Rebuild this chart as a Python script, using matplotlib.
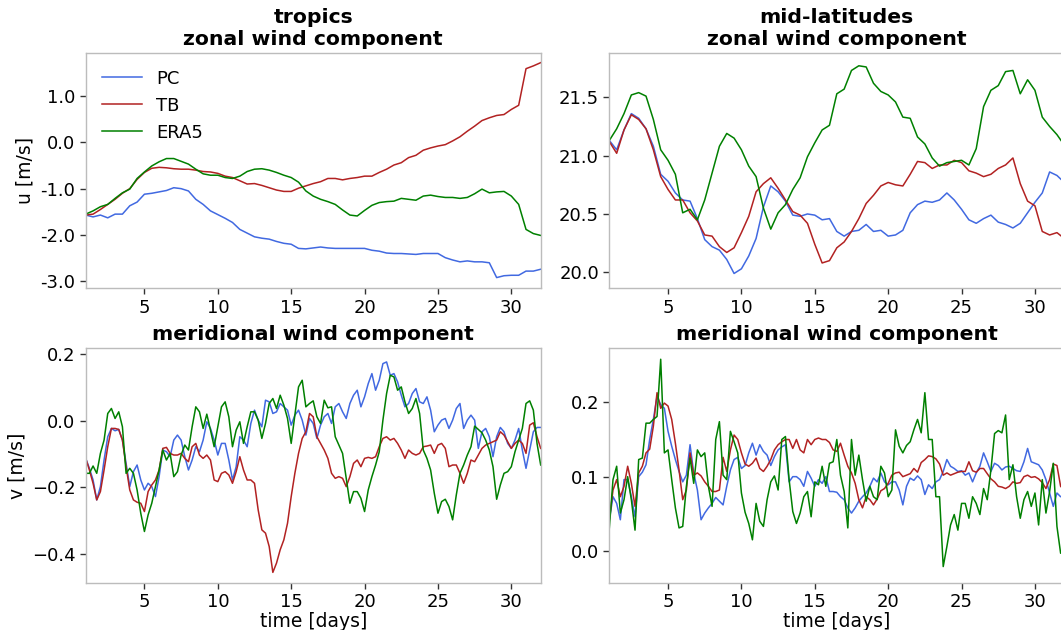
import numpy as np
import matplotlib
matplotlib.use("Agg")
import matplotlib.pyplot as plt
from matplotlib.ticker import FormatStrFormatter

# ---------------- data ----------------
days_u = np.linspace(1, 32, 63)    # 12-hourly samples for zonal wind
days_v = np.linspace(1, 32, 125)   # 6-hourly samples for meridional wind

series_names = ["PC", "TB", "ERA5"]
series_colors = ["#4169E1", "#B22222", "#008000"]

pc_u_trop = [-1.57, -1.61, -1.57, -1.63, -1.55, -1.55, -1.37, -1.29, -1.12, -1.10,
             -1.07, -1.04, -0.98, -1.00, -1.05, -1.23, -1.34, -1.48, -1.56, -1.64,
             -1.73, -1.88, -1.96, -2.04, -2.07, -2.09, -2.14, -2.18, -2.20, -2.29,
             -2.30, -2.28, -2.26, -2.28, -2.29, -2.29, -2.29, -2.29, -2.29, -2.33,
             -2.35, -2.39, -2.40, -2.40, -2.41, -2.42, -2.40, -2.40, -2.40, -2.49,
             -2.54, -2.58, -2.56, -2.58, -2.58, -2.60, -2.92, -2.88, -2.87, -2.87,
             -2.78, -2.78, -2.74]
tb_u_trop = [-1.57, -1.55, -1.45, -1.34, -1.23, -1.10, -1.00, -0.80, -0.65, -0.56,
             -0.54, -0.55, -0.57, -0.58, -0.58, -0.60, -0.63, -0.64, -0.67, -0.73,
             -0.76, -0.83, -0.90, -0.89, -0.93, -0.98, -1.03, -1.06, -1.06, -0.99,
             -0.94, -0.89, -0.85, -0.78, -0.78, -0.81, -0.78, -0.76, -0.73, -0.73,
             -0.65, -0.58, -0.49, -0.44, -0.33, -0.28, -0.17, -0.12, -0.08, -0.05,
             0.03, 0.12, 0.24, 0.35, 0.47, 0.53, 0.58, 0.60, 0.71, 0.80,
             1.59, 1.65, 1.72]
era5_u_trop = [-1.55, -1.48, -1.39, -1.34, -1.21, -1.09, -1.01, -0.78, -0.64, -0.51,
               -0.42, -0.35, -0.35, -0.41, -0.47, -0.58, -0.68, -0.71, -0.71, -0.76,
               -0.78, -0.73, -0.63, -0.58, -0.57, -0.60, -0.65, -0.71, -0.76, -0.86,
               -1.05, -1.16, -1.23, -1.28, -1.34, -1.46, -1.57, -1.59, -1.47, -1.36,
               -1.30, -1.28, -1.27, -1.21, -1.23, -1.25, -1.16, -1.14, -1.17, -1.19,
               -1.19, -1.21, -1.19, -1.11, -1.01, -1.09, -1.07, -1.06, -1.16, -1.34,
               -1.88, -1.97, -2.01]

pc_u_mid = [21.13, 21.05, 21.22, 21.36, 21.32, 21.23, 21.08, 20.84, 20.78, 20.68,
            20.62, 20.61, 20.46, 20.28, 20.22, 20.19, 20.11, 19.99, 20.03, 20.14,
            20.29, 20.56, 20.74, 20.69, 20.61, 20.49, 20.48, 20.50, 20.49, 20.45,
            20.46, 20.35, 20.31, 20.35, 20.36, 20.41, 20.35, 20.36, 20.31, 20.32,
            20.36, 20.51, 20.58, 20.61, 20.60, 20.62, 20.68, 20.62, 20.54, 20.45,
            20.42, 20.46, 20.49, 20.43, 20.41, 20.38, 20.42, 20.51, 20.60, 20.68,
            20.86, 20.83, 20.77]
tb_u_mid = [21.12, 21.02, 21.22, 21.35, 21.31, 21.23, 21.05, 20.82, 20.71, 20.62,
            20.62, 20.51, 20.44, 20.32, 20.31, 20.22, 20.17, 20.21, 20.34, 20.48,
            20.69, 20.76, 20.81, 20.72, 20.62, 20.52, 20.49, 20.42, 20.24, 20.08,
            20.10, 20.21, 20.26, 20.35, 20.46, 20.59, 20.66, 20.74, 20.77, 20.75,
            20.74, 20.84, 20.95, 20.94, 20.89, 20.92, 20.92, 20.96, 20.94, 20.87,
            20.85, 20.82, 20.84, 20.89, 20.92, 20.98, 20.76, 20.61, 20.57, 20.35,
            20.32, 20.34, 20.29]
era5_u_mid = [21.13, 21.23, 21.36, 21.52, 21.54, 21.51, 21.31, 21.05, 20.96, 20.84,
              20.51, 20.54, 20.45, 20.62, 20.85, 21.08, 21.19, 21.15, 21.05, 20.91,
              20.82, 20.55, 20.37, 20.51, 20.58, 20.71, 20.81, 20.99, 21.11, 21.22,
              21.26, 21.53, 21.57, 21.73, 21.77, 21.76, 21.62, 21.55, 21.52, 21.46,
              21.33, 21.32, 21.16, 21.10, 20.98, 20.91, 20.94, 20.95, 20.96, 20.92,
              21.06, 21.42, 21.56, 21.60, 21.72, 21.73, 21.53, 21.65, 21.56, 21.33,
              21.25, 21.18, 21.09]

pc_v_trop = [-0.113, -0.143, -0.178, -0.238, -0.198, -0.118, -0.048, -0.023, -0.030, -0.026,
             -0.058, -0.128, -0.198, -0.153, -0.133, -0.178, -0.208, -0.188, -0.198, -0.228,
             -0.168, -0.088, -0.093, -0.108, -0.058, -0.043, -0.058, -0.108, -0.148, -0.118,
             -0.078, -0.093, -0.058, -0.003, -0.023, -0.058, -0.103, -0.068, -0.068, -0.118,
             -0.178, -0.138, -0.048, -0.058, -0.078, -0.008, 0.032, 0.002, -0.018, 0.062,
             0.057, 0.022, 0.027, 0.052, 0.042, 0.032, -0.013, 0.017, 0.032, 0.002,
             -0.043, 0.007, -0.008, -0.053, -0.013, 0.012, 0.022, -0.008, 0.042, 0.052,
             0.027, 0.007, 0.052, 0.077, 0.092, 0.042, 0.072, 0.112, 0.142, 0.092,
             0.122, 0.172, 0.177, 0.137, 0.142, 0.117, 0.077, 0.042, 0.052, 0.082,
             0.097, 0.057, 0.052, 0.072, 0.032, -0.033, -0.013, 0.002, 0.007, -0.023,
             0.002, 0.037, 0.052, -0.023, 0.002, 0.017, 0.002, -0.083, -0.033, -0.023,
             -0.048, -0.108, -0.048, -0.020, -0.033, -0.068, -0.083, -0.058, -0.023, -0.088,
             -0.143, -0.088, -0.033, -0.020, -0.020]
tb_v_trop = [-0.113, -0.148, -0.188, -0.238, -0.213, -0.148, -0.078, -0.023, -0.023, -0.026,
             -0.058, -0.138, -0.208, -0.238, -0.245, -0.248, -0.273, -0.213, -0.193, -0.178,
             -0.148, -0.083, -0.080, -0.098, -0.103, -0.103, -0.098, -0.113, -0.123, -0.078,
             -0.068, -0.103, -0.113, -0.103, -0.118, -0.178, -0.183, -0.158, -0.153, -0.163,
             -0.188, -0.153, -0.108, -0.148, -0.178, -0.178, -0.188, -0.268, -0.328, -0.338,
             -0.378, -0.456, -0.428, -0.388, -0.358, -0.308, -0.228, -0.158, -0.098, -0.053,
             -0.033, 0.022, 0.012, -0.048, -0.068, -0.088, -0.113, -0.158, -0.173, -0.168,
             -0.173, -0.198, -0.168, -0.128, -0.118, -0.138, -0.113, -0.110, -0.113, -0.108,
             -0.078, -0.053, -0.048, -0.058, -0.053, -0.068, -0.088, -0.113, -0.088, -0.098,
             -0.103, -0.098, -0.078, -0.076, -0.073, -0.098, -0.073, -0.068, -0.083, -0.138,
             -0.133, -0.133, -0.158, -0.188, -0.158, -0.118, -0.123, -0.103, -0.083, -0.073,
             -0.068, -0.063, -0.058, -0.033, -0.043, -0.063, -0.083, -0.068, -0.058, -0.068,
             -0.098, -0.013, -0.006, -0.048, -0.083]
era5_v_trop = [-0.158, -0.158, -0.136, -0.158, -0.098, -0.058, 0.022, 0.037, 0.007, 0.027,
               -0.018, -0.158, -0.143, -0.158, -0.208, -0.278, -0.333, -0.283, -0.248, -0.198,
               -0.148, -0.088, -0.118, -0.098, -0.168, -0.153, -0.103, -0.073, -0.088, -0.018,
               0.042, 0.027, -0.023, 0.020, -0.028, -0.078, -0.018, 0.042, 0.057, 0.012,
               -0.078, -0.028, -0.003, -0.068, -0.018, 0.027, 0.027, 0.002, -0.053, -0.008,
               0.052, 0.067, 0.037, 0.077, 0.047, 0.007, -0.068, 0.017, 0.102, 0.122,
               0.042, 0.052, 0.060, 0.012, -0.008, 0.062, 0.039, 0.042, -0.048, -0.073,
               -0.098, -0.173, -0.248, -0.213, -0.213, -0.233, -0.273, -0.208, -0.168, -0.133,
               -0.093, 0.002, 0.082, 0.137, 0.132, 0.092, 0.102, 0.057, 0.022, 0.037,
               0.067, 0.022, -0.088, -0.113, -0.148, -0.218, -0.278, -0.243, -0.236, -0.258,
               -0.298, -0.223, -0.158, -0.133, -0.103, -0.078, -0.016, -0.026, -0.036, -0.058,
               -0.088, -0.138, -0.236, -0.193, -0.158, -0.153, -0.138, -0.093, -0.058, -0.023,
               0.052, 0.060, 0.032, -0.068, -0.133]

pc_v_mid = [0.042, 0.073, 0.064, 0.042, 0.096, 0.096, 0.073, 0.046, 0.100, 0.106,
            0.116, 0.150, 0.177, 0.208, 0.197, 0.192, 0.161, 0.141, 0.123, 0.107,
            0.093, 0.102, 0.143, 0.105, 0.082, 0.042, 0.051, 0.058, 0.064, 0.072,
            0.067, 0.062, 0.087, 0.109, 0.123, 0.126, 0.111, 0.115, 0.132, 0.145,
            0.129, 0.143, 0.134, 0.129, 0.115, 0.127, 0.136, 0.140, 0.143, 0.093,
            0.100, 0.100, 0.096, 0.087, 0.107, 0.098, 0.087, 0.096, 0.091, 0.100,
            0.080, 0.080, 0.079, 0.073, 0.069, 0.058, 0.051, 0.058, 0.067, 0.073,
            0.078, 0.087, 0.098, 0.093, 0.105, 0.093, 0.089, 0.093, 0.093, 0.082,
            0.062, 0.087, 0.098, 0.095, 0.101, 0.096, 0.076, 0.089, 0.084, 0.093,
            0.096, 0.107, 0.123, 0.114, 0.111, 0.107, 0.108, 0.102, 0.105, 0.093,
            0.105, 0.114, 0.132, 0.120, 0.107, 0.118, 0.115, 0.109, 0.113, 0.114,
            0.111, 0.108, 0.107, 0.120, 0.138, 0.120, 0.118, 0.116, 0.109, 0.096,
            0.078, 0.060, 0.078, 0.073, 0.073]
tb_v_mid = [0.042, 0.082, 0.096, 0.073, 0.087, 0.114, 0.091, 0.060, 0.105, 0.114,
            0.132, 0.137, 0.168, 0.213, 0.192, 0.199, 0.195, 0.177, 0.145, 0.109,
            0.069, 0.082, 0.132, 0.102, 0.105, 0.101, 0.093, 0.087, 0.080, 0.080,
            0.082, 0.126, 0.107, 0.136, 0.156, 0.150, 0.132, 0.117, 0.114, 0.118,
            0.125, 0.111, 0.107, 0.114, 0.123, 0.136, 0.143, 0.147, 0.150, 0.150,
            0.138, 0.150, 0.136, 0.132, 0.150, 0.143, 0.150, 0.152, 0.150, 0.150,
            0.146, 0.136, 0.134, 0.145, 0.129, 0.114, 0.105, 0.091, 0.069, 0.058,
            0.073, 0.069, 0.062, 0.070, 0.081, 0.084, 0.091, 0.102, 0.105, 0.106,
            0.100, 0.102, 0.104, 0.111, 0.106, 0.119, 0.123, 0.128, 0.127, 0.124,
            0.117, 0.102, 0.105, 0.102, 0.104, 0.106, 0.107, 0.107, 0.120, 0.108,
            0.106, 0.111, 0.111, 0.104, 0.097, 0.093, 0.087, 0.086, 0.084, 0.087,
            0.093, 0.091, 0.092, 0.100, 0.102, 0.099, 0.100, 0.097, 0.092, 0.084,
            0.096, 0.117, 0.115, 0.087, 0.082]
era5_v_mid = [0.031, 0.096, 0.114, 0.051, 0.069, 0.100, 0.069, 0.028, 0.123, 0.125,
              0.172, 0.172, 0.177, 0.181, 0.258, 0.132, 0.136, 0.096, 0.058, 0.031,
              0.033, 0.087, 0.125, 0.091, 0.136, 0.127, 0.132, 0.087, 0.060, 0.150,
              0.174, 0.102, 0.096, 0.161, 0.147, 0.132, 0.078, 0.052, 0.037, 0.015,
              0.064, 0.040, 0.033, 0.069, 0.093, 0.101, 0.082, 0.150, 0.154, 0.096,
              0.053, 0.037, 0.051, 0.073, 0.080, 0.046, 0.093, 0.089, 0.114, 0.087,
              0.118, 0.120, 0.150, 0.102, 0.080, 0.031, 0.150, 0.102, 0.129, 0.096,
              0.067, 0.087, 0.073, 0.069, 0.114, 0.105, 0.073, 0.082, 0.163, 0.141,
              0.132, 0.142, 0.147, 0.163, 0.177, 0.159, 0.213, 0.150, 0.150, 0.073,
              0.073, -0.021, 0.006, 0.035, 0.049, 0.028, 0.064, 0.064, 0.044, 0.073,
              0.064, 0.049, 0.084, 0.069, 0.109, 0.158, 0.162, 0.159, 0.183, 0.096,
              0.116, 0.073, 0.044, 0.069, 0.080, 0.060, 0.078, 0.035, 0.096, 0.051,
              0.080, 0.118, 0.033, -0.003, -0.003]

panel_titles = ["tropics\nzonal wind component", "mid-latitudes\nzonal wind component",
                "meridional wind component", "meridional wind component"]
xtick_values = [5, 10, 15, 20, 25, 30]

# ---------------- figure ----------------
fig = plt.figure(figsize=(10.61, 6.3), dpi=100)
W, H = 0.4288, 0.373
ax_tl = fig.add_axes([0.0808, 0.5424, W, H])
ax_tr = fig.add_axes([0.5743, 0.5424, W, H])
ax_bl = fig.add_axes([0.0808, 0.0751, W, 0.372])
ax_br = fig.add_axes([0.5743, 0.0751, W, 0.372])

panels = [
    (ax_tl, days_u, [pc_u_trop, tb_u_trop, era5_u_trop], (-3.151, 1.922)),
    (ax_tr, days_u, [pc_u_mid, tb_u_mid, era5_u_mid], (19.863, 21.877)),
    (ax_bl, days_v, [pc_v_trop, tb_v_trop, era5_v_trop], (-0.487, 0.218)),
    (ax_br, days_v, [pc_v_mid, tb_v_mid, era5_v_mid], (-0.0427, 0.2727)),
]

for (ax, t, data, ylim), title in zip(panels, panel_titles):
    for vals, name, col in zip(data, series_names, series_colors):
        ax.plot(t, vals, color=col, lw=1.1, label=name)
    ax.set_xlim(1, 32)
    ax.set_ylim(*ylim)
    ax.set_xticks(xtick_values)
    ax.set_title(title, fontsize=14.7, fontweight="bold")
    for s in ax.spines.values():
        s.set_color("#bcbcbc")
        s.set_linewidth(1.0)
    ax.tick_params(direction="out", length=4, width=1, color="#333333",
                   labelsize=13, labelcolor="black")

ax_tl.yaxis.set_major_formatter(FormatStrFormatter("%.1f"))
ax_tl.set_yticks([-3, -2, -1, 0, 1])
ax_tl.set_ylabel("u [m/s]", fontsize=13.5)
ax_bl.set_ylabel("v [m/s]", fontsize=13.5)
ax_bl.set_xlabel("time [days]", fontsize=13.5, labelpad=1)
ax_br.set_xlabel("time [days]", fontsize=13.5, labelpad=1)

ax_tl.legend(loc="upper left", frameon=False, fontsize=13, handlelength=2.2)

fig.savefig("out.png", dpi=100)
